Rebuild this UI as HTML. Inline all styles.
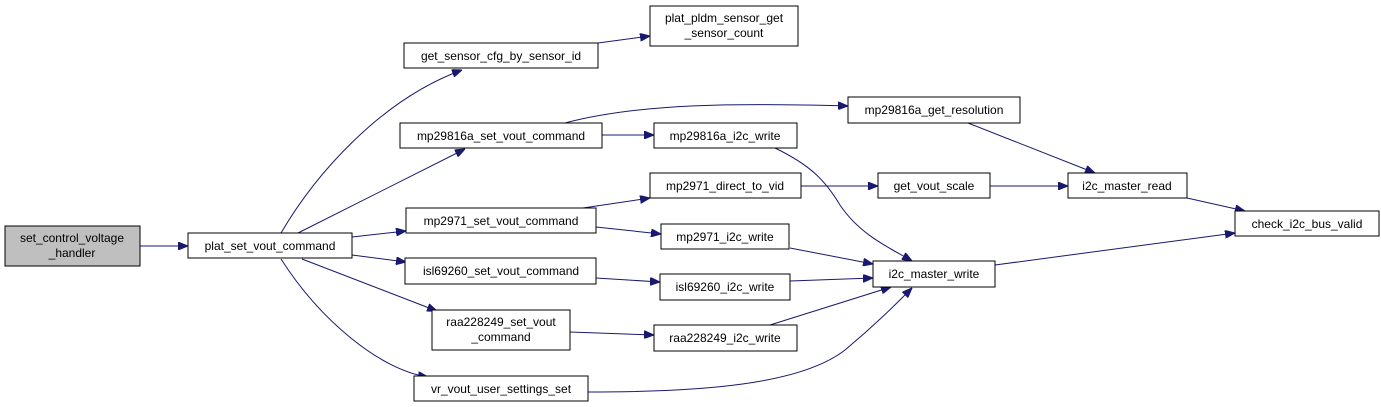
<!DOCTYPE html>
<html><head><meta charset="utf-8"><style>
html,body{margin:0;padding:0;background:#fff;}
svg{display:block;}
text{font-family:"Liberation Sans",Arial,sans-serif;font-size:12px;fill:#000;text-anchor:middle;}
rect{stroke:#000;stroke-width:1;fill:#fff;}
path.e{stroke:#191970;stroke-width:1;fill:none;marker-end:url(#a);}
</style></head><body>
<svg width="1381" height="407" viewBox="0 0 1381 407" xmlns="http://www.w3.org/2000/svg">
<defs><marker id="a" markerWidth="10" markerHeight="8" refX="10" refY="4" orient="auto" markerUnits="userSpaceOnUse"><path d="M0,0 L10,4 L0,8 z" fill="#191970" stroke="#191970"/></marker></defs>
<path class="e" d="M140,246 L188,246"/>
<path class="e" d="M281,233 C315,175 380,100 462,70"/>
<path class="e" d="M298,233 L465,149"/>
<path class="e" d="M352,237 L406,231"/>
<path class="e" d="M352,255 L406,262"/>
<path class="e" d="M302,259 L437,311"/>
<path class="e" d="M281,259 C320,320 380,370 428,377"/>
<path class="e" d="M598,43 L650,36"/>
<path class="e" d="M565,123 C640,103 740,103 848,106"/>
<path class="e" d="M602,135 L654,135"/>
<path class="e" d="M583,208 L650,198"/>
<path class="e" d="M596,227 L661,234"/>
<path class="e" d="M596,278 L660,282"/>
<path class="e" d="M570,332 L654,335"/>
<path class="e" d="M588,392 C700,392 800,385 845,350 C875,325 895,305 912,288"/>
<path class="e" d="M775,148 C810,165 825,180 840,205 C860,235 890,248 912,261"/>
<path class="e" d="M801,186 L878,186"/>
<path class="e" d="M990,186 L1068,186"/>
<path class="e" d="M968,123 L1095,173"/>
<path class="e" d="M790,248 L873,264"/>
<path class="e" d="M790,281 L873,278"/>
<path class="e" d="M770,325 L891,287"/>
<path class="e" d="M1187,198 L1245,211"/>
<path class="e" d="M995,265 L1235,233"/>

<rect x="5" y="226" width="135" height="40" style="fill:#bfbfbf"/>
<text x="72" y="242">set_control_voltage</text><text x="72" y="257">_handler</text>
<rect x="188" y="233" width="164" height="25"/><text x="270" y="250">plat_set_vout_command</text>
<rect x="404" y="43" width="194" height="25"/><text x="501" y="60">get_sensor_cfg_by_sensor_id</text>
<rect x="400" y="123" width="202" height="25"/><text x="501" y="140">mp29816a_set_vout_command</text>
<rect x="406" y="208" width="190" height="25"/><text x="501" y="225">mp2971_set_vout_command</text>
<rect x="405" y="258" width="191" height="26"/><text x="501" y="275">isl69260_set_vout_command</text>
<rect x="432" y="310" width="138" height="40"/><text x="501" y="326">raa228249_set_vout</text><text x="501" y="341">_command</text>
<rect x="414" y="376" width="174" height="25"/><text x="501" y="393">vr_vout_user_settings_set</text>
<rect x="650" y="6" width="148" height="40"/><text x="724" y="22">plat_pldm_sensor_get</text><text x="724" y="37">_sensor_count</text>
<rect x="848" y="97" width="172" height="26"/><text x="934" y="114">mp29816a_get_resolution</text>
<rect x="654" y="123" width="143" height="25"/><text x="725" y="140">mp29816a_i2c_write</text>
<rect x="650" y="173" width="151" height="25"/><text x="725" y="190">mp2971_direct_to_vid</text>
<rect x="878" y="173" width="112" height="25"/><text x="934" y="190">get_vout_scale</text>
<rect x="1068" y="173" width="119" height="25"/><text x="1127" y="190">i2c_master_read</text>
<rect x="1235" y="211" width="144" height="25"/><text x="1307" y="228">check_i2c_bus_valid</text>
<rect x="661" y="224" width="128" height="25"/><text x="725" y="241">mp2971_i2c_write</text>
<rect x="873" y="261" width="122" height="26"/><text x="934" y="278">i2c_master_write</text>
<rect x="660" y="274" width="130" height="26"/><text x="725" y="291">isl69260_i2c_write</text>
<rect x="654" y="325" width="143" height="26"/><text x="725" y="342">raa228249_i2c_write</text>
</svg>
</body></html>
